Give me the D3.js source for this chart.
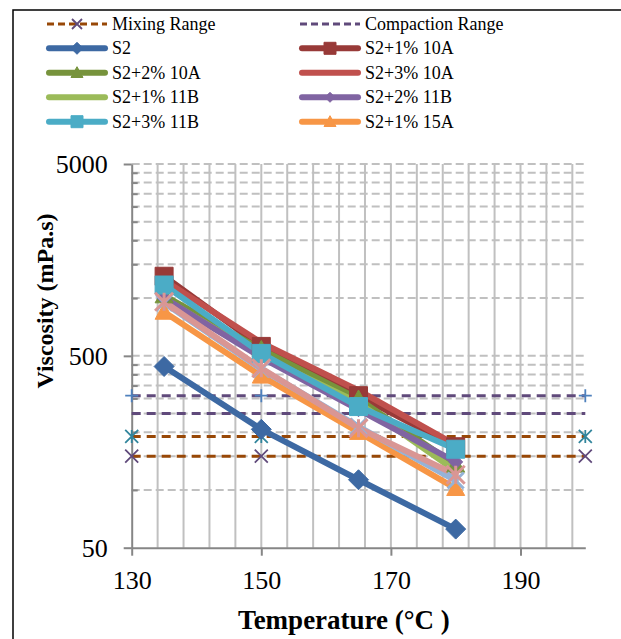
<!DOCTYPE html>
<html>
<head>
<meta charset="utf-8">
<script src="https://cdn.jsdelivr.net/npm/d3@7/dist/d3.min.js"></script>
<style>
body{margin:0;background:#fff;}
svg{display:block;font-family:"Liberation Serif","Times New Roman",serif;}
text{font-family:"Liberation Serif","Times New Roman",serif;}
</style>
</head>
<body>
<div id="chart"></div>
<script>
var temps = [135, 150, 165, 180];
var seriesNames = ["S2", "S2+1% 10A", "S2+2% 10A", "S2+3% 10A", "S2+1% 11B", "S2+2% 11B", "S2+3% 11B", "S2+1% 15A"];
var s2      = [440, 207, 113, 62.5];
var s2_1_10A = [1300, 560, 310, 168];
var s2_2_10A = [1030, 540, 298, 135];
var s2_3_10A = [1240, 585, 330, 172];
var s2_1_11B = [990, 500, 285, 126];
var s2_2_11B = [1000, 490, 262, 140];
var s2_3_11B = [1170, 515, 272, 163];
var s2_1_15A = [846, 393, 200, 102];
// two series with no legend entry
var extraBlue = [945, 426, 214, 112];
var extraPink = [957, 431, 210, 120];

var refTemps = [130, 150, 200];
var mixingRange = [150, 190];
var compactionRange = [250, 310];

var xTicks = [130, 150, 170, 190];
var yTicks = [50, 500, 5000];

var W = 621, H = 639;
var svg = d3.select("#chart").append("svg").attr("width", W).attr("height", H);

svg.append("rect").attr("x", 13).attr("y", 10).attr("width", 700).attr("height", 700)
  .attr("fill", "none").attr("stroke", "#000").attr("stroke-width", 1.5);

var x = d3.scaleLinear().domain([130, 200]).range([131.7, 585.3]);
var y = d3.scaleLog().domain([50, 5000]).range([547.7, 164]);

// minor gridlines: 2..9 x each decade start
var minors = [];
[50, 500].forEach(function(b) { for (var k = 2; k <= 9; k++) minors.push(b * k); });
var xMinor = d3.range(134, 200, 4);

svg.append("g").selectAll("line").data(xMinor).enter().append("line")
  .attr("x1", function(d) { return x(d); }).attr("x2", function(d) { return x(d); })
  .attr("y1", y(5000)).attr("y2", y(50))
  .attr("stroke", "#c0c0c0").attr("stroke-width", 2);

svg.append("g").selectAll("line").data(minors.concat([500, 5000])).enter().append("line")
  .attr("x1", x(130)).attr("x2", x(200))
  .attr("y1", function(d) { return y(d); }).attr("y2", function(d) { return y(d); })
  .attr("stroke", "#c0c0c0").attr("stroke-width", 2).attr("stroke-dasharray", "8,4");

var xAxis = d3.axisBottom(x).tickValues(xTicks).tickSize(8).tickSizeOuter(0).tickPadding(15);
var yAxis = d3.axisLeft(y).tickValues(yTicks).tickFormat(d3.format("d")).tickSize(8).tickSizeOuter(0).tickPadding(16);
var yMinor = d3.axisRight(y).tickValues(minors).tickSize(6).tickFormat("");

var gx = svg.append("g").attr("transform", "translate(0," + y(50) + ")").call(xAxis);
var gy = svg.append("g").attr("transform", "translate(" + x(130) + ",0)").call(yAxis);
var gm = svg.append("g").attr("transform", "translate(" + x(130) + ",0)").call(yMinor);
gm.select(".domain").remove();
[gx, gy, gm].forEach(function(g) {
  g.selectAll("path,line").attr("stroke", "#868686").attr("stroke-width", 2);
  g.selectAll("text").attr("fill", "#000").style("font-size", "26px").style("font-family", "Liberation Serif");
});

svg.append("text").attr("x", 344).attr("y", 629).attr("text-anchor", "middle")
  .style("font-size", "27px").style("font-weight", "bold").text("Temperature (°C )");
svg.append("text").attr("transform", "translate(53,301) rotate(-90)").attr("text-anchor", "middle")
  .style("font-size", "24px").style("font-weight", "bold").text("Viscosity (mPa.s)");

function markerPath(type, s) {
  if (type == "diamond") return "M0," + (-s) + "L" + s + ",0L0," + s + "L" + (-s) + ",0Z";
  if (type == "square") return "M" + (-s) + "," + (-s) + "h" + 2 * s + "v" + 2 * s + "h" + (-2 * s) + "Z";
  if (type == "triangle") return "M0," + (-s) + "L" + s + "," + s * 0.8 + "L" + (-s) + "," + s * 0.8 + "Z";
  if (type == "x") return "M" + (-s) + "," + (-s) + "L" + s + "," + s + "M" + (-s) + "," + s + "L" + s + "," + (-s);
  if (type == "star") return "M" + (-s) + "," + (-s) + "L" + s + "," + s + "M" + (-s) + "," + s + "L" + s + "," + (-s) + "M0," + (-s) + "V" + s;
  if (type == "plus") return "M" + (-s) + ",0H" + s + "M0," + (-s) + "V" + s;
  return "";
}
var stroked = {x: 1, star: 1, plus: 1};

// reference lines
var refs = [
  {v: compactionRange[1], color: "#604a7b", marker: "plus", mcolor: "#4f81bd"},
  {v: compactionRange[0], color: "#604a7b", marker: null},
  {v: mixingRange[1], color: "#984807", marker: "star", mcolor: "#31859c"},
  {v: mixingRange[0], color: "#984807", marker: "x", mcolor: "#604a7b"}
];
refs.forEach(function(r) {
  svg.append("line").attr("x1", x(refTemps[0])).attr("x2", x(refTemps[2]))
    .attr("y1", y(r.v)).attr("y2", y(r.v))
    .attr("stroke", r.color).attr("stroke-width", 3).attr("stroke-dasharray", "9,6");
  if (r.marker) {
    svg.append("g").selectAll("path").data(refTemps).enter().append("path")
      .attr("transform", function(d) { return "translate(" + x(d) + "," + y(r.v) + ")"; })
      .attr("d", markerPath(r.marker, 6.5)).attr("fill", "none")
      .attr("stroke", r.mcolor).attr("stroke-width", 1.8);
  }
});

var series = [
  {name: seriesNames[0], vals: s2, color: "#3d69a3", marker: "diamond", ms: 10, lm: 6},
  {name: seriesNames[1], vals: s2_1_10A, color: "#983a38", marker: "square", ms: 9, lm: 6},
  {name: seriesNames[2], vals: s2_2_10A, color: "#77933c", marker: "triangle", ms: 9, lm: 6},
  {name: seriesNames[3], vals: s2_3_10A, color: "#c0504d", marker: null},
  {name: seriesNames[4], vals: s2_1_11B, color: "#9bbb59", marker: null},
  {name: seriesNames[5], vals: s2_2_11B, color: "#8064a2", marker: "diamond", ms: 7, lm: 5},
  {name: seriesNames[6], vals: s2_3_11B, color: "#4bacc6", marker: "square", ms: 9, lm: 6},
  {name: seriesNames[7], vals: s2_1_15A, color: "#f79646", marker: "triangle", ms: 9, lm: 6},
  {name: null, vals: extraBlue, color: "#95b3d7", marker: "x", ms: 8},
  {name: null, vals: extraPink, color: "#d99694", marker: "star", ms: 9}
];

var line = d3.line()
  .x(function(d, i) { return x(temps[i]); })
  .y(function(d) { return y(d); });

series.forEach(function(s) {
  svg.append("path").attr("d", line(s.vals)).attr("fill", "none")
    .attr("stroke", s.color).attr("stroke-width", 6).attr("stroke-linejoin", "round").attr("stroke-linecap", "round");
});
series.forEach(function(s) {
  if (!s.marker) return;
  svg.append("g").selectAll("path").data(s.vals).enter().append("path")
    .attr("transform", function(d, i) { return "translate(" + x(temps[i]) + "," + y(d) + ")"; })
    .attr("d", markerPath(s.marker, s.ms))
    .attr("fill", stroked[s.marker] ? "none" : s.color)
    .attr("stroke", s.color).attr("stroke-width", stroked[s.marker] ? 3 : 1);
});

// legend
var legendItems = [
  {name: "Mixing Range", color: "#984807", dash: true, marker: "x", mcolor: "#604a7b"},
  {name: "Compaction Range", color: "#604a7b", dash: true, marker: null}
].concat(series.filter(function(s) { return s.name; }));
var colX = [47, 300], rowY = [24, 48.3, 72.7, 97.3, 121.7];
var leg = svg.append("g");
legendItems.forEach(function(it, i) {
  var cx = colX[i % 2], cy = rowY[Math.floor(i / 2)];
  var g = leg.append("g").attr("transform", "translate(" + cx + "," + cy + ")");
  if (it.dash) {
    g.append("line").attr("x1", 0).attr("x2", 60).attr("stroke", it.color).attr("stroke-width", 3).attr("stroke-dasharray", "7,4");
  } else {
    g.append("line").attr("x1", 2).attr("x2", 58).attr("stroke", it.color).attr("stroke-width", 6).attr("stroke-linecap", "round");
  }
  if (it.marker) {
    var isS = stroked[it.marker];
    g.append("path").attr("transform", "translate(30,0)").attr("d", markerPath(it.marker, isS ? 5 : (it.lm || 6)))
      .attr("fill", isS ? "none" : it.color).attr("stroke", it.mcolor || it.color).attr("stroke-width", isS ? 1.8 : 1);
  }
  g.append("text").attr("x", 65).attr("y", 6).style("font-size", "18px")
    .style("font-family", "Liberation Serif").text(it.name);
});
</script>
</body>
</html>
